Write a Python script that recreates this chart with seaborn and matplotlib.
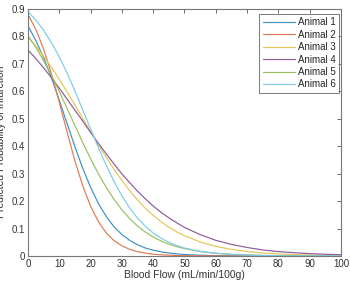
import numpy as np
import pandas as pd
import matplotlib
matplotlib.use('Agg')
import matplotlib.pyplot as plt
import seaborn as sns

# Values (denser sampling where the curves bend)
blood_flow = [0, 2.5, 5, 7.5, 10, 12.5, 15, 17.5, 20, 22.5, 25, 27.5, 30, 32.5, 35, 37.5,
              40, 42.5, 45, 47.5, 50, 55, 60, 65, 70, 75, 80, 85, 90, 95, 100]
animal_1 = [0.838, 0.785, 0.722, 0.649, 0.567, 0.482, 0.398, 0.319, 0.250, 0.191, 0.144,
            0.106, 0.078, 0.057, 0.041, 0.029, 0.021, 0.015, 0.0107, 0.0076, 0.0054,
            0.0027, 0.0014, 0.0007, 0.0004, 0.0002, 0.0001, 0.0, 0.0, 0.0, 0.0]
animal_2 = [0.880, 0.825, 0.753, 0.663, 0.560, 0.451, 0.346, 0.255, 0.181, 0.125, 0.084,
            0.056, 0.037, 0.024, 0.0157, 0.0102, 0.0066, 0.0043, 0.0028, 0.0018, 0.0012,
            0.0005, 0.0002, 0.0001, 0.0, 0.0, 0.0, 0.0, 0.0, 0.0, 0.0]
animal_3 = [0.797, 0.764, 0.727, 0.687, 0.643, 0.597, 0.550, 0.501, 0.453, 0.405, 0.359,
            0.315, 0.275, 0.238, 0.204, 0.174, 0.148, 0.125, 0.105, 0.088, 0.074,
            0.051, 0.035, 0.024, 0.016, 0.011, 0.0076, 0.0052, 0.0035, 0.0024, 0.0016]
animal_4 = [0.750, 0.719, 0.685, 0.649, 0.611, 0.571, 0.531, 0.491, 0.450, 0.410, 0.372,
            0.335, 0.299, 0.267, 0.236, 0.208, 0.182, 0.159, 0.139, 0.121, 0.104,
            0.078, 0.057, 0.042, 0.031, 0.022, 0.016, 0.012, 0.0086, 0.0062, 0.0045]
animal_5 = [0.802, 0.760, 0.711, 0.657, 0.599, 0.537, 0.475, 0.413, 0.354, 0.299, 0.250,
            0.206, 0.168, 0.136, 0.109, 0.087, 0.069, 0.055, 0.043, 0.034, 0.027,
            0.016, 0.010, 0.0061, 0.0037, 0.0022, 0.0014, 0.0008, 0.0005, 0.0003, 0.0002]
animal_6 = [0.890, 0.859, 0.822, 0.777, 0.725, 0.666, 0.601, 0.532, 0.463, 0.394, 0.330,
            0.271, 0.219, 0.175, 0.138, 0.108, 0.084, 0.065, 0.050, 0.038, 0.029,
            0.017, 0.0097, 0.0055, 0.0032, 0.0018, 0.0010, 0.0006, 0.0003, 0.0002, 0.0001]

animals = ['Animal 1', 'Animal 2', 'Animal 3', 'Animal 4', 'Animal 5', 'Animal 6']
series = [animal_1, animal_2, animal_3, animal_4, animal_5, animal_6]

# MATLAB default line colours, a bit washed out like the reference
colors = ['#3f8fc4', '#de7a50', '#e6c45a', '#8e5a99', '#98bf62', '#7ccbeb']

df = pd.concat([pd.DataFrame({'flow': blood_flow, 'prob': vals, 'animal': name})
                for name, vals in zip(animals, series)], ignore_index=True)

sns.set_style('white')
plt.rcParams['font.family'] = ['Liberation Sans', 'DejaVu Sans']
plt.rcParams['font.size'] = 7

fig = plt.figure(figsize=(3.5, 2.86), dpi=100)
ax = fig.add_axes([0.08, 0.105, 0.894, 0.864])

sns.lineplot(data=df, x='flow', y='prob', hue='animal', palette=colors,
             linewidth=0.85, ax=ax, legend=True)

ax.set_xlim(0, 100)
ax.set_ylim(0, 0.9)
ax.set_xticks(np.arange(0, 101, 10))
ax.set_yticks(np.arange(0, 0.91, 0.1))
ax.set_yticklabels(['0'] + [f'{v:.1f}' for v in np.arange(0.1, 0.91, 0.1)])
ax.tick_params(direction='in', length=3, width=0.6, colors='#555555',
               labelcolor='#333333', labelsize=7, top=True, right=True, pad=2)
for s in ax.spines.values():
    s.set_color('#777777')
    s.set_linewidth(0.8)

ax.set_xlabel('Blood Flow (mL/min/100g)', fontsize=7.5, color='#333333', labelpad=1)
ax.set_ylabel('Predicted Probability of Infarction', fontsize=7.5, color='#333333')
ax.yaxis.set_label_coords(-0.07, 0.46)

leg = ax.legend(loc='upper right', fontsize=7, frameon=True, fancybox=False,
                handlelength=3.3, handletextpad=0.3, borderpad=0.35, labelspacing=0.25,
                borderaxespad=0, bbox_to_anchor=(0.994, 0.98))
leg.get_frame().set_edgecolor('#555555')
leg.get_frame().set_linewidth(0.7)

fig.savefig('out.png', dpi=100)
